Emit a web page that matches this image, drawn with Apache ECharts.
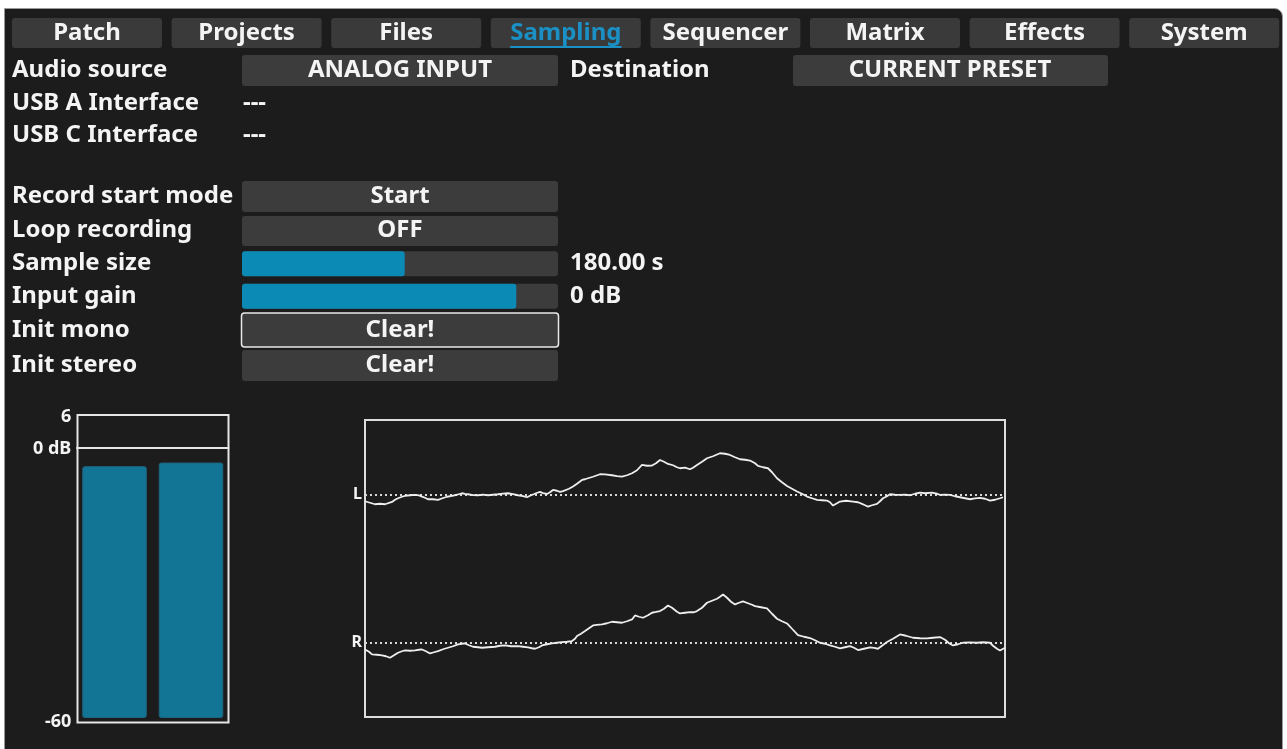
<!DOCTYPE html>
<html>
<head>
<meta charset="utf-8">
<script src="https://cdn.jsdelivr.net/npm/echarts@6/dist/echarts.min.js"></script>
<style>
html,body{margin:0;padding:0;background:#fff;}
#chart{width:1287px;height:749px;}
</style>
</head>
<body>
<div id="chart"></div>
<script>
// ---------------- DATA ----------------
const tabs = ['Patch', 'Projects', 'Files', 'Sampling', 'Sequencer', 'Matrix', 'Effects', 'System'];
const activeTab = 'Sampling';

const headerLabels = ['Audio source', 'USB A Interface', 'USB C Interface'];
const headerValues = ['ANALOG INPUT', '---', '---'];
const destinationLabel = 'Destination';
const destinationValue = 'CURRENT PRESET';

const settingLabels = ['Record start mode', 'Loop recording', 'Sample size', 'Input gain', 'Init mono', 'Init stereo'];
const settingButtons = ['Start', 'OFF', null, null, 'Clear!', 'Clear!'];

const sliderNames = ['Sample size', 'Input gain'];
const sliderPercent = [51.5, 86.8];
const sliderReadouts = ['180.00 s', '0 dB'];

const meterChannels = ['L', 'R'];
const meterLevelsDb = [-4.1, -3.3];
const meterFloorDb = -60;
const meterCeilDb = 6;
const meterTickLabels = ['-60', '0 dB', '6'];

// waveform: [time, amplitude]
const waveL = [[0,-7],[5,-8.5],[10,-10],[15,-9.5],[20,-10],[27,-7.7],[30,-5.5],[33,-4],[37,-2.5],[40,-1.7],[45,-1],[50,-0.7],[54,-1.2],[57,-2.3],[60,-3.5],[63,-5],[68,-5],[73,-5.7],[76,-4.5],[78,-3],[82,-2.5],[87,-1.7],[92,-0.5],[97,1],[100,0.3],[103,0],[108,-0.8],[113,-1],[118,-0.3],[123,-1],[128,-0.5],[133,0],[138,0.6],[143,1],[148,0.2],[153,-1],[158,-1.8],[162,-3],[165,-1.5],[167,-0.7],[171,1],[175,2.3],[178,1.2],[182,0.3],[185,2],[188,4.3],[192,3.5],[195,2.3],[198,3.2],[200,4.3],[204,5.5],[208,7.7],[212,10.5],[217,14.3],[220,15],[223,16],[228,17.5],[235,20],[240,19.8],[247,19],[252,18.2],[257,17.7],[262,19],[267,21],[272,24],[277,29.3],[282,28.5],[287,28.7],[291,31],[295,34.3],[299,32.5],[303,30.3],[308,29],[312,27],[315,26],[320,26.7],[325,25],[328,26.5],[332,29.3],[337,32.5],[342,36],[348,38],[355,41],[360,40.5],[365,39.3],[370,37],[375,35],[380,34.5],[385,33.7],[390,31],[393,28.3],[398,27],[403,26],[407,22],[412,16],[417,12],[422,8.3],[427,5.5],[432,2.7],[437,0.5],[442,-2.3],[447,-4],[452,-5.7],[457,-6],[462,-6.3],[465,-8],[468,-11.3],[472,-9],[475,-7.3],[481,-6.5],[488,-7.3],[493,-8],[497,-9.7],[500,-11],[503,-12.3],[507,-11],[512,-9.7],[515,-7],[518,-4],[522,-2],[525,0],[530,-0.5],[535,-0.7],[540,-0.3],[545,-1],[550,0.5],[555,1.7],[560,1],[567,1.7],[572,0.5],[575,-0.7],[580,-0.3],[585,-0.7],[590,-2],[595,-3],[600,-4],[605,-5],[610,-4.2],[615,-3.7],[620,-4.5],[625,-6.3],[630,-5.5],[635,-4],[638,-3]];
const waveR = [[0,-6.7],[4,-9],[7,-11.7],[12,-12],[17,-12.7],[21,-13.5],[25,-15],[29,-12.5],[33,-10],[37,-8.5],[40,-7.7],[45,-8],[50,-7.7],[54,-7],[57,-6.7],[61,-8.5],[65,-10.7],[69,-9.5],[73,-8.3],[78,-6.5],[83,-5],[88,-3.5],[93,-1.7],[97,-1],[100,-0.7],[104,-2.5],[108,-4],[113,-4.5],[117,-5],[123,-4.5],[130,-4],[135,-3],[140,-2.7],[146,-3.5],[153,-3.3],[158,-4],[163,-4.7],[167,-5.5],[170,-6],[174,-4.5],[177,-2.7],[182,-1.5],[187,-0.7],[192,0],[197,0.7],[202,1],[207,1.7],[210,4],[212,6.7],[216,9],[220,11.7],[224,14.5],[228,17.3],[232,17.8],[237,18.3],[242,19.5],[247,21],[252,20.5],[257,20],[262,21.5],[267,23.3],[270,27.3],[274,26],[278,25],[283,27.5],[287,30],[291,30.8],[295,31.7],[299,34],[303,37.3],[307,35],[312,31],[315,29.3],[320,30],[325,30.7],[329,30.5],[332,31.7],[337,35],[342,40],[347,42],[352,44],[355,46],[358,48.3],[362,45],[366,41],[370,38.3],[374,40],[378,41.3],[383,39.5],[387,38],[390,36.7],[396,35.5],[402,34.3],[407,29],[412,24],[417,21.5],[422,19.3],[427,14],[433,7.7],[439,6],[445,4.7],[450,2.5],[455,0],[460,-1],[465,-2.7],[470,-4],[475,-5.7],[480,-4.5],[485,-3.3],[489,-5],[493,-7.3],[499,-6],[505,-4.7],[509,-5.2],[513,-6],[517,-3],[522,0.7],[528,4],[535,8.3],[541,7],[548,5],[555,4.5],[562,4.3],[568,5],[575,5.7],[580,3],[584,-0.5],[588,-2.7],[593,-1.5],[598,0],[605,0.3],[612,0],[618,0.5],[625,0],[628,-3],[632,-6],[635,-7.7],[640,-5]];
const waveTimeMax = 640;
const waveAmpMax = 74.25;

// ---------------- STYLE ----------------
const FONT_FAMILY = '"Noto Sans", "Open Sans", sans-serif';
const FONT = 'bold 24px ' + FONT_FAMILY;
const TEXT = '#f4f4f4';
const BTN = '#3c3c3c';
const BLUE = '#0b8ab5';
const ACTIVE = '#1a90c4';
const METER = '#137596';

const measureCtx = document.createElement('canvas').getContext('2d');
function textWidth(t, font) { measureCtx.font = font; return measureCtx.measureText(t).width; }

function txt(text, x, y, align, color, font) {
  return {
    type: 'text', z: 20,
    style: {
      text: text, x: x, y: y,
      align: align || 'left', textAlign: align || 'left',
      verticalAlign: 'middle', textVerticalAlign: 'middle',
      fill: color || TEXT, font: font || FONT
    }
  };
}
function btn(x, y, w, h, extra) {
  return Object.assign({
    type: 'rect', z: 5,
    shape: { x: x, y: y, width: w, height: h, r: 3 },
    style: { fill: BTN }
  }, extra || {});
}

const g = [];
// panel
g.push({ type: 'rect', z: -10, shape: { x: 4.5, y: 8.5, width: 1278, height: 745, r: [0, 8, 0, 0] },
  style: { fill: '#1c1c1c', stroke: '#9a9a9a', lineWidth: 1 } });

// tabs
tabs.forEach(function (t, i) {
  const x = 12 + i * 159.6;
  g.push(btn(x, 18, 150, 30, { style: { fill: '#3a3a3a' } }));
  const active = t === activeTab;
  g.push(txt(t, x + 75, 33, 'center', active ? ACTIVE : TEXT));
  if (active) {
    const w = textWidth(t, FONT);
    g.push({ type: 'line', z: 20, shape: { x1: x + 75 - w / 2, y1: 47, x2: x + 75 + w / 2, y2: 47 },
      style: { stroke: ACTIVE, lineWidth: 2 } });
  }
});

// header rows
const headerY = [70.5, 103, 135];
headerLabels.forEach(function (l, i) {
  g.push(txt(l, 12, headerY[i]));
  if (i === 0) {
    g.push(btn(242, 55, 316, 31));
    g.push(txt(headerValues[i], 400, headerY[i], 'center'));
  } else {
    g.push(txt(headerValues[i], 243, headerY[i]));
  }
});
g.push(txt(destinationLabel, 570, headerY[0]));
g.push(btn(793, 55, 315, 31));
g.push(txt(destinationValue, 950, headerY[0], 'center'));

// setting rows
const rowY = [196, 230.5, 263.5, 296, 330, 365.5];
const rowBox = [[181, 31], [216, 30], null, null, [313, 34], [350, 31]];
settingLabels.forEach(function (l, i) {
  g.push(txt(l, 12, rowY[i]));
  if (settingButtons[i]) {
    const b = rowBox[i];
    if (i === 4) {
      g.push(btn(241.5, b[0], 317, b[1], { style: { fill: BTN, stroke: '#e8e8e8', lineWidth: 1.5 } }));
    } else {
      g.push(btn(242, b[0], 316, b[1]));
    }
    g.push(txt(settingButtons[i], 400, rowY[i], 'center'));
  }
});
sliderReadouts.forEach(function (r, i) {
  g.push(txt(r, 570, rowY[2 + i]));
});

// frames
g.push({ type: 'rect', z: 8, shape: { x: 77.5, y: 415, width: 151, height: 307.5 },
  style: { fill: 'none', stroke: '#e6e6e6', lineWidth: 2 } });
g.push({ type: 'rect', z: 8, shape: { x: 365, y: 420, width: 640, height: 297 },
  style: { fill: 'none', stroke: '#dcdcdc', lineWidth: 2 } });

// ---------------- CHART ----------------
const chart = echarts.init(document.getElementById('chart'), null, { renderer: 'canvas', width: 1287, height: 749 });

const labelStyle = { color: TEXT, fontFamily: FONT_FAMILY, fontWeight: 'bold', fontSize: 18 };

const dotted = function () {
  return {
    silent: true, symbol: ['none', 'none'],
    label: { show: false },
    lineStyle: { color: '#d8d8d8', type: [2, 3], width: 2 },
    data: [{ yAxis: 0 }]
  };
};

const option = {
  backgroundColor: '#ffffff',
  animation: false,
  graphic: { elements: g },
  grid: [
    // sliders
    { left: 242, top: 247.5, width: 316, height: 65, show: false },
    // meter
    { left: 76.25, top: 420.7, width: 153, height: 297.3, show: false },
    // wave L
    { left: 365, top: 420, width: 640, height: 148.5, show: false },
    // wave R
    { left: 365, top: 568.5, width: 640, height: 148.5, show: false }
  ],
  xAxis: [
    { gridIndex: 0, type: 'value', min: 0, max: 100, show: false },
    { gridIndex: 1, type: 'category', data: meterChannels, show: false },
    { gridIndex: 2, type: 'value', min: 0, max: waveTimeMax, show: false },
    { gridIndex: 3, type: 'value', min: 0, max: waveTimeMax, show: false }
  ],
  yAxis: [
    { gridIndex: 0, type: 'category', data: sliderNames, inverse: true, show: false },
    {
      gridIndex: 1, type: 'value', min: 0, max: meterCeilDb - meterFloorDb,
      axisLine: { show: false }, axisTick: { show: false }, splitLine: { show: false },
      axisLabel: Object.assign({
        customValues: [0, -meterFloorDb, meterCeilDb - meterFloorDb],
        margin: 5,
        formatter: function (v) {
          const db = v + meterFloorDb;
          if (db === meterFloorDb) return '{lo|' + meterTickLabels[0] + '}';
          if (db === 0) return '{mid|' + meterTickLabels[1] + '}';
          return '{hi|' + meterTickLabels[2] + '}';
        },
        rich: {
          lo: { color: TEXT, fontFamily: FONT_FAMILY, fontWeight: 'bold', fontSize: 18, padding: [8, 0, 0, 0] },
          mid: { color: TEXT, fontFamily: FONT_FAMILY, fontWeight: 'bold', fontSize: 18, padding: [2, 0, 0, 0] },
          hi: { color: TEXT, fontFamily: FONT_FAMILY, fontWeight: 'bold', fontSize: 18, padding: [0, 0, 8, 0] }
        }
      }, labelStyle)
    },
    {
      gridIndex: 2, type: 'value', min: -waveAmpMax, max: waveAmpMax,
      axisLine: { show: false }, axisTick: { show: false }, splitLine: { show: false },
      axisLabel: Object.assign({ customValues: [0], margin: 3, formatter: function () { return 'L'; } }, labelStyle, { fontSize: 16 })
    },
    {
      gridIndex: 3, type: 'value', min: -waveAmpMax, max: waveAmpMax,
      axisLine: { show: false }, axisTick: { show: false }, splitLine: { show: false },
      axisLabel: Object.assign({ customValues: [0], margin: 3, formatter: function () { return 'R'; } }, labelStyle, { fontSize: 16 })
    }
  ],
  series: [
    {
      type: 'bar', xAxisIndex: 0, yAxisIndex: 0, barWidth: 25,
      data: sliderPercent,
      showBackground: true,
      backgroundStyle: { color: BTN, borderRadius: 3 },
      itemStyle: { color: BLUE, borderRadius: 3 },
      z: 10
    },
    {
      type: 'bar', xAxisIndex: 1, yAxisIndex: 1, barWidth: 64.5,
      data: meterLevelsDb.map(function (v) { return v - meterFloorDb; }),
      itemStyle: { color: METER, borderColor: '#1d6680', borderWidth: 1, borderRadius: 2 },
      markLine: {
        silent: true, symbol: ['none', 'none'], label: { show: false },
        lineStyle: { color: '#e6e6e6', type: 'solid', width: 2 },
        data: [{ yAxis: -meterFloorDb }]
      },
      z: 10
    },
    {
      type: 'line', xAxisIndex: 2, yAxisIndex: 2, data: waveL, showSymbol: false,
      lineStyle: { color: '#eeeeee', width: 1.8 }, markLine: dotted(), z: 10
    },
    {
      type: 'line', xAxisIndex: 3, yAxisIndex: 3, data: waveR, showSymbol: false,
      lineStyle: { color: '#eeeeee', width: 1.8 }, markLine: dotted(), z: 10
    }
  ]
};
chart.setOption(option);
</script>
</body>
</html>
